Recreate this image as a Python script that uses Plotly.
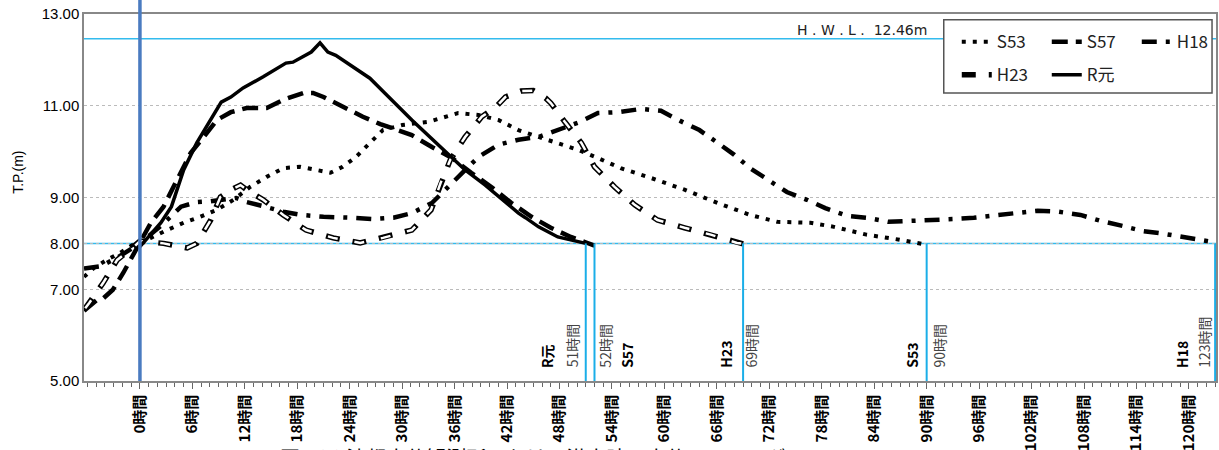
import plotly.graph_objects as go

# ---------------- data ----------------
hours_r1 = [0, 2.4, 3.6, 5.0, 6.5, 8.1, 9.3, 10.4, 11.8, 14.1, 16.7, 17.5, 18.9, 19.6, 20.6, 21.5, 22.4,
            24.0, 26.3, 28.0, 31.1, 35.0, 37.2, 39.5, 41.8, 43.3, 44.1, 45.6, 47.8, 50.1, 51]
level_r1 = [7.93, 8.45, 8.8, 9.6, 10.19, 10.69, 11.08, 11.19, 11.39, 11.63, 11.93, 11.95, 12.1, 12.17, 12.37,
            12.17, 12.1, 11.89, 11.6, 11.28, 10.69, 9.99, 9.6, 9.27, 8.9, 8.66, 8.56, 8.36, 8.14, 8.03, 8.0]

hours_s57 = [-6.4, -4.9, -4.2, -3.1, -1.9, -0.9, 0, 1.25, 2.7, 4.2, 5.8, 7.3, 8.8, 10.4, 12.2, 14.5, 16.4,
             18.7, 19.8, 21.0, 23.2, 25.5, 27.5, 29.3, 31.1, 33.4, 35.7, 37.9, 40.2, 42.5, 44.8, 47.0, 49.3,
             50.9, 52]
level_s57 = [6.53, 6.77, 6.8, 6.99, 7.36, 7.71, 8.0, 8.45, 8.8, 9.38, 9.97, 10.32, 10.69, 10.86, 10.95, 10.95,
             11.13, 11.28, 11.28, 11.19, 10.97, 10.76, 10.6, 10.47, 10.36, 10.1, 9.86, 9.54, 9.23, 8.88, 8.58,
             8.34, 8.14, 8.03, 7.95]

hours_s53 = [-6.4, -5.3, -3.8, -2.3, -0.8, 1.25, 3.1, 5.0, 6.9, 8.8, 10.7, 12.6, 14.5, 16.4, 18.3, 20.2, 21.8,
             23.2, 24.7, 26.3, 27.8, 30.0, 33.0, 36.4, 38.7, 41.0, 43.3, 45.6, 47.8, 50.1, 52.4, 55.0, 58.4,
             62.3, 66.1, 69.8, 72.9, 76.7, 79.4, 83.1, 86.9, 90]
level_s53 = [7.27, 7.46, 7.64, 7.79, 7.97, 8.12, 8.29, 8.45, 8.58, 8.73, 8.95, 9.23, 9.45, 9.64, 9.67, 9.6, 9.54,
             9.67, 9.88, 10.19, 10.47, 10.58, 10.65, 10.84, 10.8, 10.69, 10.47, 10.32, 10.19, 10.04, 9.86, 9.64,
             9.43, 9.17, 8.88, 8.62, 8.47, 8.45, 8.36, 8.19, 8.08, 7.97]

hours_h18 = [-6.4, -4.5, -2.5, 0, 2.5, 4.7, 6.5, 8.1, 11.0, 12.2, 14.3, 16.4, 18.5, 21.0, 24.0, 26.7, 29.0,
             31.1, 33.4, 35.3, 38.7, 41.0, 43.3, 45.6, 47.8, 50.1, 52.4, 54.7, 57.3, 59.6, 61.8, 64.0, 66.1,
             68.0, 69.8, 72.0, 74.0, 76.3, 78.4, 80.9, 83.1, 85.6, 88.0, 90.5, 93.0, 95.4, 97.9, 100.2, 102.7,
             105.1, 107.6, 109.9, 112.4, 114.7, 117.1, 119.6, 121.9, 123]
level_h18 = [7.45, 7.5, 7.7, 8.0, 8.4, 8.8, 8.9, 8.92, 8.99, 8.9, 8.8, 8.69, 8.62, 8.58, 8.56, 8.53, 8.56,
             8.66, 8.88, 9.23, 9.88, 10.15, 10.26, 10.32, 10.47, 10.63, 10.84, 10.86, 10.93, 10.89, 10.67,
             10.47, 10.19, 9.93, 9.64, 9.38, 9.12, 8.95, 8.77, 8.6, 8.56, 8.47, 8.49, 8.49, 8.53, 8.56, 8.6,
             8.66, 8.71, 8.69, 8.62, 8.49, 8.38, 8.27, 8.21, 8.12, 8.05, 8.02]

hours_h23 = [-6.4, -5.8, -4.2, -2.6, -0.7, 0, 2.7, 5.4, 6.5, 8.1, 9.2, 10.4, 11.5, 12.2, 14.1, 16.4, 19.0,
             22.1, 25.2, 27.8, 31.1, 33.3, 34.4, 35.5, 37.2, 39.1, 40.7, 41.8, 43.6, 45.0, 46.4, 47.0, 48.6,
             50.5, 52.0, 54.3, 56.6, 59.2, 62.3, 65.3, 68.3, 69]
level_h23 = [6.55, 6.7, 7.14, 7.64, 7.92, 8.05, 8.0, 7.9, 8.0, 8.51, 9.01, 9.17, 9.27, 9.17, 8.95, 8.62, 8.29,
             8.12, 8.01, 8.12, 8.29, 8.73, 9.32, 9.82, 10.32, 10.76, 10.97, 11.19, 11.32, 11.33, 11.17, 11.06,
             10.65, 10.19, 9.67, 9.23, 8.84, 8.51, 8.34, 8.19, 8.01, 7.99]

hwl = 12.46
base_level = 8.00
end_hours = [51, 52, 69, 90, 123]
x_tick_vals = list(range(0, 121, 6))
x_tick_text = [f"{v}時間" for v in x_tick_vals]
y_tick_vals = [5, 7, 8, 9, 11, 13]
y_tick_text = ["5.00", "7.00", "8.00", "9.00", "11.00", "13.00"]

# ---------------- figure ----------------
fig = go.Figure()
JP = "Noto Sans CJK JP"

fig.add_trace(go.Scatter(x=hours_s53, y=level_s53, mode="lines", name="S53",
                         line=dict(color="black", width=4, dash="4px,7px"), legend="legend"))
fig.add_trace(go.Scatter(x=hours_s57, y=level_s57, mode="lines", name="S57",
                         line=dict(color="black", width=4.5, dash="16px,8px"), legend="legend"))
fig.add_trace(go.Scatter(x=hours_h18, y=level_h18, mode="lines", name="H18",
                         line=dict(color="black", width=4.5, dash="15px,9px,4px,9px"), legend="legend"))
fig.add_trace(go.Scatter(x=hours_h23, y=level_h23, mode="lines", name="H23",
                         line=dict(color="black", width=5.5, dash="14px,13px"), legend="legend2"))
fig.add_trace(go.Scatter(x=hours_h23, y=level_h23, mode="lines", name="H23 inner", showlegend=False,
                         line=dict(color="white", width=2.5, dash="0px,2px,10px,15px"), hoverinfo="skip"))
fig.add_trace(go.Scatter(x=hours_r1, y=level_r1, mode="lines", name="R元",
                         line=dict(color="black", width=3.5), legend="legend2"))

shapes = []
shapes.append(dict(type="line", xref="paper", x0=0, x1=1, yref="y", y0=hwl, y1=hwl,
                   line=dict(color="#33bbee", width=1.5), layer="below"))
shapes.append(dict(type="line", xref="paper", x0=0, x1=1, yref="y", y0=base_level, y1=base_level,
                   line=dict(color="#33bbee", width=1.5), layer="below"))
for h in end_hours:
    shapes.append(dict(type="line", xref="x", x0=h, x1=h, yref="y", y0=5, y1=base_level,
                       line=dict(color="#1aaee8", width=2), layer="above"))
shapes.append(dict(type="line", xref="x", x0=0, x1=0, yref="paper", y0=0, y1=1.04,
                   line=dict(color="#4a7bc0", width=3.5), layer="above"))
shapes.append(dict(type="rect", xref="paper", yref="paper", x0=0.7595, x1=0.9965, y0=0.785, y1=0.984,
                   fillcolor="white", line=dict(color="#555555", width=1.5), layer="above"))

annotations = []
annotations.append(dict(x=90.3, y=hwl, xref="x", yref="y", xanchor="right", yanchor="bottom",
                        text="H . W . L .  12.46m", showarrow=False, yshift=-1,
                        font=dict(family="DejaVu Sans", size=14, color="#222")))

label_specs = [
    (46.5, "R元", True), (49.4, "51時間", False),
    (53.1, "52時間", False), (55.7, "S57", True),
    (67.0, "H23", True), (69.9, "69時間", False),
    (88.3, "S53", True), (91.4, "90時間", False),
    (119.2, "H18", True), (121.7, "123時間", False),
]
for x, t, bold in label_specs:
    annotations.append(dict(x=x, y=5.25, xref="x", yref="y", xanchor="center", yanchor="bottom",
                            text=f"<b>{t}</b>" if bold else t, textangle=-90, showarrow=False,
                            font=dict(family=JP, size=14, color="black" if bold else "#444")))

# y-axis title (placed slightly above centre as in the original)
annotations.append(dict(x=-0.0585, y=0.5695, xref="paper", yref="paper", xanchor="center", yanchor="middle",
                        text="T.P.(m)", textangle=-90, showarrow=False,
                        font=dict(family="Liberation Sans", size=14, color="black")))

annotations.append(dict(x=0.171, y=-0.164, xref="paper", yref="paper", xanchor="left", yanchor="top",
                        text="図-3(c) 沖都水位観測所における洪水時の水位ハイドログラフ", showarrow=False,
                        font=dict(family=JP, size=20, color="black")))

fig.update_layout(
    width=1219, height=450,
    margin=dict(l=84, r=3, t=14, b=69, autoexpand=False),
    paper_bgcolor="white", plot_bgcolor="white",
    shapes=shapes, annotations=annotations,
    showlegend=True,
    legend=dict(orientation="h", x=0.771, y=0.972, xanchor="left", yanchor="top",
                font=dict(family=JP, size=17, color="#222"), bgcolor="rgba(0,0,0,0)",
                entrywidth=45, entrywidthmode="pixels", itemwidth=30, tracegroupgap=0),
    legend2=dict(orientation="h", x=0.771, y=0.882, xanchor="left", yanchor="top",
                 font=dict(family=JP, size=17, color="#222"), bgcolor="rgba(0,0,0,0)",
                 entrywidth=45, entrywidthmode="pixels", itemwidth=30, tracegroupgap=0),
    xaxis=dict(range=[-6.4, 123.1], tickmode="array", tickvals=x_tick_vals,
               ticktext=[f"<b>{t}</b>" for t in x_tick_text],
               tickangle=-90, ticks="outside", ticklen=6, tickcolor="#666", showgrid=False,
               zeroline=False, showline=True, linecolor="#888", linewidth=1.5, mirror=True,
               automargin=False,
               tickfont=dict(family=JP, size=15, color="black"),
               minor=dict(tickmode="linear", tick0=0, dtick=1, ticks="outside", ticklen=4,
                          tickcolor="#666", showgrid=False)),
    yaxis=dict(range=[5, 13], tickmode="array", tickvals=y_tick_vals, ticktext=y_tick_text,
               showgrid=True, gridcolor="#bbbbbb", griddash="dot", gridwidth=1, zeroline=False,
               showline=True, linecolor="#888", linewidth=1.5, mirror=True, ticks="",
               automargin=False,
               tickfont=dict(family="Liberation Sans", size=15, color="black")),
)

fig.write_html("out.html", config={"displayModeBar": False},
               post_script="document.body.style.margin='0';document.body.style.overflow='hidden';")
